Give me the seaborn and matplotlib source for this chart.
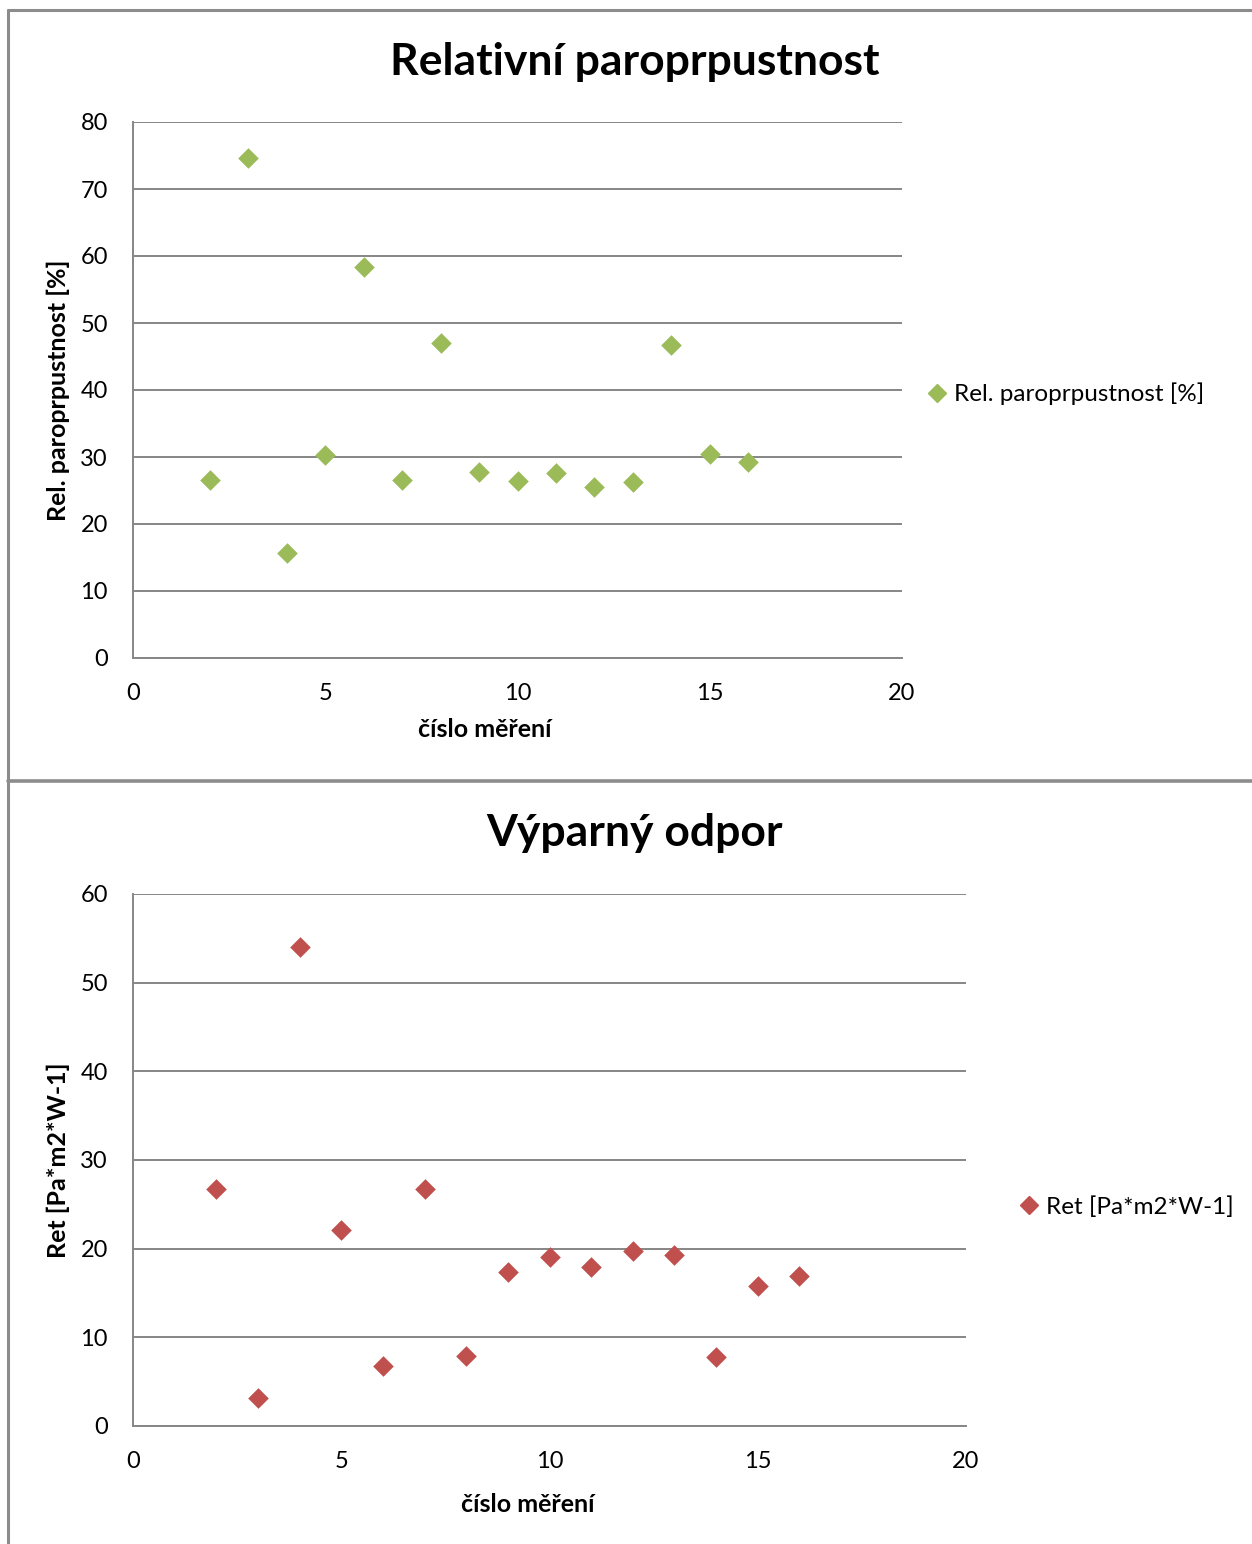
import matplotlib
matplotlib.use("Agg")
import matplotlib.pyplot as plt
import seaborn as sns
import pandas as pd
from matplotlib.lines import Line2D

# ---- data ----
cislo = [2, 3, 4, 5, 6, 7, 8, 9, 10, 11, 12, 13, 14, 15, 16]
rel_paro = [26.6, 74.6, 15.7, 30.3, 58.4, 26.6, 47.0, 27.8, 26.4, 27.6, 25.5, 26.3, 46.7, 30.4, 29.3]
ret = [26.7, 3.2, 54.0, 22.1, 6.8, 26.7, 7.9, 17.4, 19.1, 17.9, 19.7, 19.3, 7.8, 15.8, 16.9]

title1 = "Relativní paroprpustnost"
title2 = "Výparný odpor"
xlabel = "číslo měření"
ylabel1 = "Rel. paroprpustnost [%]"
ylabel2 = "Ret [Pa*m2*W-1]"
xticks = [0, 5, 10, 15, 20]
yticks1 = [0, 10, 20, 30, 40, 50, 60, 70, 80]
yticks2 = [0, 10, 20, 30, 40, 50, 60]

GREEN = "#9BBB59"
RED = "#C0504D"
GRAY = "#868686"

sns.set_theme(style="white")
plt.rcParams['font.family'] = ['Lato', 'DejaVu Sans']
plt.rcParams['text.color'] = 'black'
plt.rcParams['axes.labelcolor'] = 'black'

W, H = 1252, 1544
fig = plt.figure(figsize=(W / 100, H / 100), dpi=100)
fig.patch.set_facecolor("white")


def px_axes(x0, y0, x1, y1):
    return fig.add_axes([x0 / W, 1 - y1 / H, (x1 - x0) / W, (y1 - y0) / H])


def style(ax, yt, ymax):
    ax.set_xlim(0, 20)
    ax.set_ylim(0, ymax)
    ax.set_xticks(xticks)
    ax.set_yticks(yt)
    ax.grid(axis="y", color=GRAY, linewidth=1.4)
    ax.grid(axis="x", visible=False)
    ax.set_axisbelow(True)
    for s in ["top", "right"]:
        ax.spines[s].set_visible(False)
    for s in ["left", "bottom"]:
        ax.spines[s].set_color(GRAY)
        ax.spines[s].set_linewidth(1.4)
    ax.tick_params(axis="both", direction="out", length=6, width=1.2, color=GRAY,
                   labelsize=17, labelcolor="black")
    ax.tick_params(axis="y", pad=12)
    ax.tick_params(axis="x", pad=12)


df1 = pd.DataFrame({"x": cislo, "y": rel_paro})
df2 = pd.DataFrame({"x": cislo, "y": ret})

ax1 = px_axes(133, 122, 902, 658)
sns.scatterplot(data=df1, x="x", y="y", ax=ax1, marker="D", s=110, color=GREEN,
                edgecolor=GREEN, linewidth=0, legend=False, zorder=3)
style(ax1, yticks1, 80)
ax1.set_xlabel(xlabel, fontsize=18, fontweight="bold")
ax1.set_ylabel(ylabel1, fontsize=18, fontweight="bold")
ax1.xaxis.set_label_coords((485 - 133) / 769, -(730 - 658) / 536)
ax1.yaxis.set_label_coords(-(133 - 58) / 769, 0.5)
fig.text(635 / W, 1 - 62 / H, title1, ha="center", va="center", fontsize=32, fontweight="bold")

ax2 = px_axes(133, 894, 966, 1426)
sns.scatterplot(data=df2, x="x", y="y", ax=ax2, marker="D", s=110, color=RED,
                edgecolor=RED, linewidth=0, legend=False, zorder=3)
style(ax2, yticks2, 60)
ax2.set_xlabel(xlabel, fontsize=18, fontweight="bold")
ax2.set_ylabel(ylabel2, fontsize=18, fontweight="bold")
ax2.xaxis.set_label_coords((528 - 133) / 833, -(1504 - 1426) / 532)
ax2.yaxis.set_label_coords(-(133 - 58) / 833, 0.5)
fig.text(635 / W, 1 - 833 / H, title2, ha="center", va="center", fontsize=32, fontweight="bold")

for ax in (ax1, ax2):
    ax.xaxis.label.set_va("center")
    ax.yaxis.label.set_va("center")

# legends
h1 = [Line2D([], [], marker="D", linestyle="", color=GREEN, markersize=9)]
fig.legend(h1, [ylabel1], loc="center left", bbox_to_anchor=(913 / W, 1 - 394 / H),
           frameon=False, fontsize=17.5, handletextpad=0.1, borderaxespad=0, handlelength=1.2)
h2 = [Line2D([], [], marker="D", linestyle="", color=RED, markersize=9)]
fig.legend(h2, [ylabel2], loc="center left", bbox_to_anchor=(1005 / W, 1 - 1207 / H),
           frameon=False, fontsize=17.5, handletextpad=0.1, borderaxespad=0, handlelength=1.2)

# chart borders
bc = "#8C8C8C"
fig.add_artist(Line2D([8 / W, 8 / W], [0, 1 - 10 / H], color=bc, linewidth=2.2, transform=fig.transFigure))
fig.add_artist(Line2D([8 / W, 1], [1 - 10 / H, 1 - 10 / H], color=bc, linewidth=2.2, transform=fig.transFigure))
fig.add_artist(Line2D([8 / W, 1], [1 - 781 / H, 1 - 781 / H], color=bc, linewidth=2.6, transform=fig.transFigure))

fig.savefig("out.png", dpi=100, facecolor="white")
